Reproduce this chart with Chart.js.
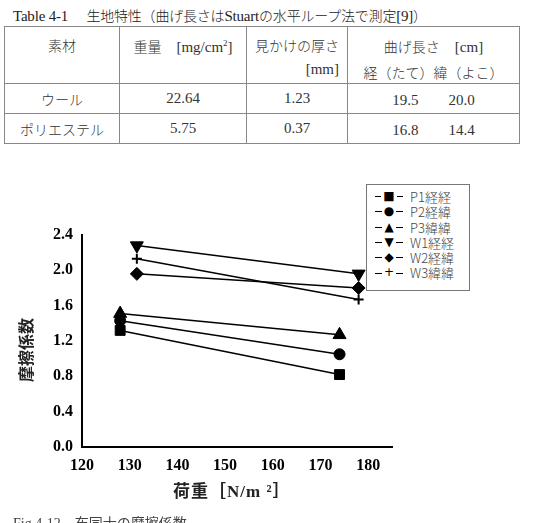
<!DOCTYPE html>
<html lang="ja">
<head>
<meta charset="UTF-8">
<title>布同士の摩擦係数</title>
<style>
  body {
    margin: 0;
    width: 560px;
    height: 523px;
    overflow: hidden;
    background: #fff;
    font-family: 'Liberation Serif', 'Noto Sans CJK JP', serif;
    color: #222;
    position: relative;
  }
  #tableTitle {
    position: absolute;
    left: 13px;
    top: 4px;
    font-size: 15px;
    letter-spacing: -0.2px;
  }
  table {
    position: absolute;
    left: 4px;
    top: 26px;
    width: 516px;
    border-collapse: collapse;
    font-size: 15px;
  }
  td {
    border: 1px solid #888;
    text-align: center;
    padding: 0;
    color: #333;
  }
  .jp { font-family: 'Noto Sans CJK JP', sans-serif; font-weight: 300; font-size: 14px; }
  #chartBox {
    position: absolute;
    left: 0;
    top: 220px;
    width: 560px;
    height: 290px;
  }
  #legend {
    position: absolute;
    left: 366px;
    top: 184px;
    width: 104px;
    height: 107px;
    border: 1px solid #777;
    background: #fff;
    font-size: 13px;
    padding-top: 4px;
    box-sizing: border-box;
  }
  #legend div {
    height: 15.3px;
    line-height: 15.3px;
    white-space: nowrap;
    color: #444;
    font-family: 'Noto Sans CJK JP', sans-serif;
    font-weight: 300;
  }
  #legend span.mk {
    display: inline-block;
    vertical-align: top;
    width: 28px;
    height: 15.3px;
    margin-left: 8px;
    margin-right: 7px;
    text-align: center;
    color: #000;
    font-family: 'DejaVu Sans', sans-serif;
    font-size: 12px;
    font-weight: 400;
    background: linear-gradient(#000, #000) no-repeat center / 100% 1px;
  }
  #legend span.mk b {
    background: #fff;
    padding: 0 2px;
    font-weight: 400;
  }
  #yTitle {
    position: absolute;
    left: 25px;
    top: 350px;
    transform: translate(-50%, -50%) rotate(-90deg);
    font-family: 'Noto Sans CJK JP', sans-serif;
    font-weight: 700;
    font-size: 16px;
    white-space: nowrap;
  }
  #xTitle {
    position: absolute;
    left: 173px;
    top: 477px;
    font-weight: 700;
    font-size: 17px;
    letter-spacing: 1px;
    white-space: nowrap;
  }
  #caption {
    position: absolute;
    left: 13px;
    top: 512px;
    font-size: 14px;
    color: #444;
    white-space: nowrap;
  }
</style>
<script src="https://cdn.jsdelivr.net/npm/chart.js"></script>
</head>
<body>
  <div id="tableTitle">Table 4-1　 <span class="jp">生地特性（曲げ長さは</span>Stuart<span class="jp">の水平ループ法で測定</span>[9]<span class="jp">）</span></div>
  <table>
    <tr style="height:57px">
      <td style="width:114px;vertical-align:top;padding-top:8px" class="jp">素材</td>
      <td style="width:126px;vertical-align:top;padding-top:8px"><span class="jp">重量</span>　[mg/cm<sup style="font-size:9px">2</sup>]</td>
      <td style="width:100px;vertical-align:top;padding-top:8px">
        <div class="jp">見かけの厚さ</div>
        <div style="text-align:right;padding-right:8px;margin-top:6px">[mm]</div>
      </td>
      <td style="vertical-align:top;padding-top:8px">
        <div><span class="jp">曲げ長さ</span>　[cm]</div>
        <div class="jp" style="margin-top:6px">経（たて）緯（よこ）</div>
      </td>
    </tr>
    <tr style="height:30px">
      <td class="jp">ウール</td><td>22.64</td><td>1.23</td><td>19.5　　20.0</td>
    </tr>
    <tr style="height:30px">
      <td class="jp">ポリエステル</td><td>5.75</td><td>0.37</td><td>16.8　　14.4</td>
    </tr>
  </table>

  <div id="chartBox"><canvas id="frictionChart"></canvas></div>

  <div id="legend">
    <div><span class="mk"><b>■</b></span>P1経経</div>
    <div><span class="mk"><b>●</b></span>P2経緯</div>
    <div><span class="mk"><b>▲</b></span>P3緯緯</div>
    <div><span class="mk"><b>▼</b></span>W1経経</div>
    <div><span class="mk"><b>◆</b></span>W2経緯</div>
    <div><span class="mk"><b>+</b></span>W3緯緯</div>
  </div>

  <div id="yTitle">摩擦係数</div>
  <div id="xTitle">荷重［N/m ²］</div>
  <div id="caption">Fig.4-12　布同士の摩擦係数</div>

<script>
  // load [N/m2] at the two measuring points
  const polyLoad = [128, 174];
  const woolLoad = [131.5, 178];

  const seriesNames = ['P1経経', 'P2経緯', 'P3緯緯', 'W1経経', 'W2経緯', 'W3緯緯'];
  const p1 = [1.32, 0.82];
  const p2 = [1.43, 1.05];
  const p3 = [1.51, 1.27];
  const w1 = [2.28, 1.96];
  const w2 = [1.96, 1.80];
  const w3 = [2.13, 1.67];

  const xTicks = [120, 130, 140, 150, 160, 170, 180];
  const yTicks = [0.0, 0.4, 0.8, 1.2, 1.6, 2.0, 2.4];

  function pts(xs, ys) {
    return xs.map((x, i) => ({ x: x, y: ys[i] }));
  }

  function series(name, xs, ys, style, radius, rotation) {
    return {
      label: name,
      data: pts(xs, ys),
      borderColor: '#000',
      backgroundColor: '#000',
      borderWidth: 1.5,
      pointStyle: style,
      pointRadius: radius,
      pointRotation: rotation || 0,
      pointBorderWidth: style === 'cross' ? 2 : 1,
      showLine: true,
      tension: 0
    };
  }

  const ctx = document.getElementById('frictionChart').getContext('2d');
  new Chart(ctx, {
    type: 'scatter',
    data: {
      datasets: [
        series(seriesNames[0], polyLoad, p1, 'rect', 7),
        series(seriesNames[1], polyLoad, p2, 'circle', 5.5),
        series(seriesNames[2], polyLoad, p3, 'triangle', 7.5),
        series(seriesNames[3], woolLoad, w1, 'triangle', 7.5, 180),
        series(seriesNames[4], woolLoad, w2, 'rectRot', 6.5),
        series(seriesNames[5], woolLoad, w3, 'cross', 5)
      ]
    },
    options: {
      responsive: true,
      maintainAspectRatio: false,
      animation: false,
      clip: false,
      layout: { padding: { top: 15, right: 168, left: 0, bottom: 0 } },
      plugins: { legend: { display: false }, tooltip: { enabled: false } },
      scales: {
        x: {
          type: 'linear',
          min: 120,
          max: 185,
          afterFit: s => { s.height = 63; },
          grid: { display: false, drawTicks: true, tickLength: 5, tickColor: '#000' },
          border: { color: '#000', width: 2 },
          ticks: {
            stepSize: 5,
            padding: 4,
            autoSkip: false,
            maxRotation: 0,
            minRotation: 0,
            color: '#000',
            font: { family: 'Liberation Serif', size: 16, weight: 'bold' },
            callback: v => xTicks.includes(v) ? String(v) : ''
          }
        },
        y: {
          min: 0,
          max: 2.4,
          afterFit: s => { s.width = 82; },
          grid: { display: false, drawTicks: true, tickLength: 4, tickColor: '#000' },
          border: { color: '#000', width: 2 },
          ticks: {
            stepSize: 0.2,
            padding: 5,
            autoSkip: false,
            color: '#000',
            font: { family: 'Liberation Serif', size: 16, weight: 'bold' },
            callback: v => yTicks.some(t => Math.abs(t - v) < 1e-6) ? v.toFixed(1) : ''
          }
        }
      }
    }
  });
</script>
</body>
</html>
